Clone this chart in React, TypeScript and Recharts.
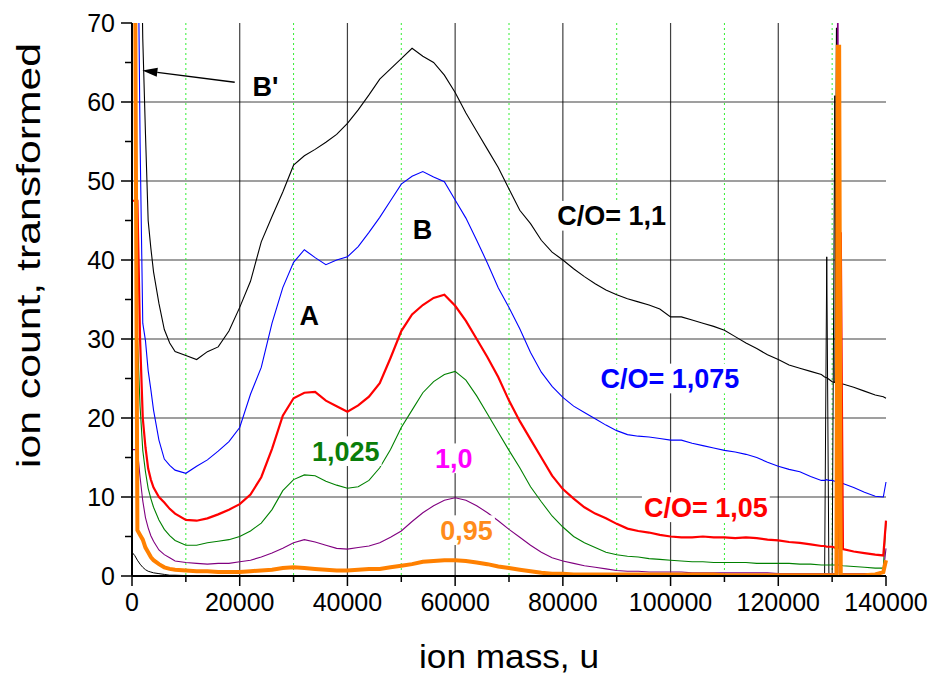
import React from 'react';
import {
  LineChart,
  Line,
  XAxis,
  YAxis,
  CartesianGrid,
  ReferenceLine,
  ReferenceDot,
  Label
} from 'recharts';

// ion mass, u
const masses = [
  0, 500, 1000, 1500, 2000, 2500, 3000, 3500, 4000, 5000, 6000, 7000, 8000,
  10000, 12000, 14000, 16000, 18000, 20000, 22000, 24000, 26000, 28000,
  30000, 32000, 34000, 36000, 38000, 40000, 42000, 44000, 46000, 48000,
  50000, 52000, 54000, 56000, 58000, 60000, 62000, 64000, 66000, 68000,
  70000, 72000, 74000, 76000, 78000, 80000, 82000, 84000, 86000, 88000,
  90000, 92000, 94000, 96000, 98000, 100000, 102000, 104000, 106000, 108000,
  110000, 112000, 114000, 116000, 118000, 120000, 122000, 124000, 126000, 128000,
  128600, 129000, 129400, 130000, 130500, 130800, 131050, 131300, 131600, 132000, 134000, 136000, 138000, 139500, 140000
];

// C/O = 1,1
const co110 = [
  90, 90, 90, 90, 68, 56, 45, 41.5, 38.5, 34.5, 31.2, 29.5, 28.4,
  27.9, 27.4, 28.4, 29, 31, 34, 37.3, 42.3, 45.5, 48.6,
  52, 53.2, 54, 54.9, 55.9, 57.3, 59, 60.9, 62.9, 64.2,
  65.5, 66.8, 65.8, 65, 63.4, 61.2, 58.6, 56.3, 54, 51.7,
  49, 46.3, 44.6, 42.5, 41, 40, 38.9, 37.9, 37, 36.2,
  35.6, 35.1, 34.7, 34.3, 33.8, 32.8, 32.8, 32.4, 32, 31.6,
  31.1, 30.3, 29.5, 28.8, 28, 27.4, 26.7, 26.3, 25.9, 25.5,
  25.2, 25.1, 24.9, 24.6, 24.5, 69.4, 24.4, 24.4, 24.3, 24.3, 23.9, 23.4, 22.9, 22.7, 22.5
];

// C/O = 1,075
const co1075 = [
  90, 90, 90, 55, 32, 29.8, 26, 23.6, 21, 17.2, 14.8, 14, 13.4,
  13, 13.9, 14.7, 15.8, 17, 18.8, 23, 26.4, 32, 36.5,
  39.7, 41.3, 40.3, 39.4, 40, 40.4, 41.7, 43.5, 45.4, 47.5,
  49.6, 50.6, 51.2, 50.5, 49.9, 47.6, 45.3, 42.5, 39.6, 36.5,
  34, 31.3, 28.3, 25.8, 24, 22.6, 21.5, 20.7, 19.9, 19.1,
  18.4, 17.9, 17.7, 17.6, 17.4, 17.2, 17.2, 16.8, 16.5, 16.2,
  15.9, 15.7, 15.4, 15, 14.4, 13.9, 13.5, 13.2, 12.6, 12.1,
  12.1, 12.2, 12.1, 12.1, 12, 12, 12, 11.9, 11.9, 11.7, 11.2, 10.6, 10.1, 10, 11.9
];

// C/O = 1,05
const co105 = [
  47.5, 47.5, 47.5, 30, 20, 16.3, 13.6, 12.2, 11.2, 10, 9.3, 8.5, 7.9,
  7.1, 7, 7.3, 7.8, 8.4, 9.1, 10.3, 12.5, 16.1, 20.3,
  22.5, 23.2, 23.3, 22.2, 21.5, 20.8, 21.6, 22.7, 24.4, 27.6,
  31, 33.1, 34.3, 35.2, 35.6, 34.2, 32.3, 30, 27.7, 25.2,
  22.2, 19.6, 17.3, 15, 12.7, 11, 9.8, 8.7, 7.9, 7.3,
  6.6, 6, 5.7, 5.5, 5.2, 5, 4.9, 4.9, 5, 4.9,
  4.9, 4.8, 4.9, 4.8, 4.6, 4.5, 4.3, 4.2, 4, 3.8,
  3.8, 3.7, 3.7, 3.7, 3.6, 3.6, 3.6, 3.6, 43.5, 3.4, 3.1, 2.9, 2.7, 2.6, 7
];

// C/O = 1,025
const co1025 = [
  30, 30, 30.3, 21.5, 15.9, 13.2, 11.1, 9.8, 8.7, 7.1, 5.9, 5.1, 4.5,
  3.9, 3.9, 4.2, 4.4, 4.6, 5, 5.7, 6.7, 8.4, 10.8,
  12.2, 12.8, 12.7, 12, 11.5, 11.1, 11.3, 12.1, 13.7, 16,
  18.8, 21, 23.2, 24.6, 25.5, 25.9, 24.8, 22.8, 20.5, 18.2,
  15.9, 13.7, 11.3, 9.4, 7.6, 6.2, 5, 4.2, 3.6, 3,
  2.7, 2.5, 2.4, 2.2, 2.1, 2, 1.9, 1.8, 1.8, 1.7,
  1.7, 1.7, 1.7, 1.6, 1.6, 1.6, 1.6, 1.5, 1.5, 1.4,
  1.4, 1.4, 1.4, 1.4, 1.4, 1.4, 1.4, 1.4, 1.4, 1.3, 1.2, 1.1, 1, 1, 6.8
];

// C/O = 1,0
const co100 = [
  16, 16, 16, 12.5, 9.5, 7.4, 6.1, 5.1, 4.4, 3.3, 2.7, 2.3, 1.9,
  1.7, 1.6, 1.5, 1.6, 1.6, 1.8, 2, 2.4, 2.9, 3.5,
  4.2, 4.6, 4.3, 3.9, 3.5, 3.4, 3.6, 3.8, 4.2, 4.9,
  5.7, 6.9, 8, 8.9, 9.6, 9.9, 9.6, 8.9, 8, 7,
  5.9, 4.9, 3.9, 3, 2.3, 1.9, 1.6, 1.3, 1.1, 0.9,
  0.7, 0.6, 0.6, 0.5, 0.5, 0.5, 0.5, 0.4, 0.4, 0.4,
  0.4, 0.4, 0.4, 0.4, 0.4, 0.3, 0.3, 0.3, 0.3, 0.3,
  0.3, 0.3, 0.3, 0.3, 0.3, 0.3, 90, 0.3, 0.3, 0.3, 0.3, 0.3, 0.3, 0.4, 3.5
];

// C/O = 0,95
const co095 = [
  90, 90, 5.8, 5.2, 4.6, 3.6, 3, 2.4, 2, 1.5, 1.1, 0.9, 0.8,
  0.7, 0.6, 0.6, 0.5, 0.5, 0.5, 0.6, 0.7, 0.8, 1,
  1.1, 1, 0.9, 0.8, 0.7, 0.7, 0.8, 0.9, 0.9, 1.1,
  1.3, 1.5, 1.8, 1.9, 2, 2, 1.9, 1.7, 1.5, 1.2,
  1, 0.8, 0.6, 0.4, 0.3, 0.3, 0.2, 0.2, 0.2, 0.2,
  0.2, 0.2, 0.2, 0.2, 0.2, 0.2, 0.2, 0.2, 0.2, 0.2,
  0.1, 0.1, 0.1, 0.1, 0.1, 0.1, 0.1, 0.1, 0.1, 0.1,
  0.1, 0.1, 0.1, 0.1, 0.1, 0.1, 67, 67, 0.1, 0.1, 0.1, 0.1, 0.2, 0.5, 2
];

// lowest trace (black, near zero)
const base = [
  3, 2.6, 2, 1.5, 1.1, 0.8, 0.6, 0.5, 0.4, 0.3, 0.2, 0.1, 0.1,
  0.05, 0.05, 0.05, 0.05, 0.05, 0.05, 0.05, 0.05, 0.05, 0.05,
  0.05, 0.05, 0.05, 0.05, 0.05, 0.05, 0.05, 0.05, 0.05, 0.05,
  0.05, 0.05, 0.05, 0.05, 0.05, 0.05, 0.05, 0.05, 0.05, 0.05,
  0.05, 0.05, 0.05, 0.05, 0.05, 0.05, 0.05, 0.05, 0.05, 0.05,
  0.05, 0.05, 0.05, 0.05, 0.05, 0.05, 0.05, 0.05, 0.05, 0.05,
  0.05, 0.05, 0.05, 0.05, 0.05, 0.05, 0.05, 0.05, 0.05, 0.05,
  0, 40.4, 0, 0, 60.8, 0, 0, 0, 0, 0, 0, 0, 0, 0, 0
];

const xTicks = [0, 10000, 20000, 30000, 40000, 50000, 60000, 70000, 80000, 90000, 100000, 110000, 120000, 130000, 140000];
const yTicks = [0, 5, 10, 15, 20, 25, 30, 35, 40, 45, 50, 55, 60, 65, 70];
const gridMajorX = [20000, 40000, 60000, 80000, 100000, 120000];
const gridMinorX = [10000, 30000, 50000, 70000, 90000, 110000, 130000];
const gridY = [10, 20, 30, 40, 50, 60];

const notes = [
  { text: "B'", x: 24800, y: 62, color: '#000000' },
  { text: 'A', x: 32900, y: 33, color: '#000000' },
  { text: 'B', x: 53950, y: 43.9, color: '#000000' },
  { text: 'C/O= 1,1', x: 89060, y: 45.6, color: '#000000' },
  { text: 'C/O= 1,075', x: 99860, y: 25, color: '#0000ff' },
  { text: '1,025', x: 39700, y: 15.8, color: '#0a7d0a' },
  { text: '1,0', x: 59750, y: 14.9, color: '#ff00ff' },
  { text: '0,95', x: 62130, y: 5.8, color: '#ff8c1a' },
  { text: 'C/O= 1,05', x: 106550, y: 8.7, color: '#ff0000' }
];

const data = masses.map((m, i) => ({
  mass: m,
  base: base[i],
  co110: co110[i],
  co1075: co1075[i],
  co105: co105[i],
  co1025: co1025[i],
  co100: co100[i],
  co095: co095[i]
}));

const FONT = 'Liberation Sans, Arial, Helvetica, sans-serif';

// rough bold Arial advance widths (em) for sizing the white label boxes
const boldWidth = (s: string) =>
  s.split('').reduce((sum, c) => {
    if (c === 'C' || c === 'A' || c === 'B') return sum + 0.722;
    if (c === 'O') return sum + 0.778;
    if (c === '=') return sum + 0.584;
    if (c === ',' || c === '/' || c === ' ') return sum + 0.278;
    if (c === "'") return sum + 0.238;
    return sum + 0.556;
  }, 0);

const XTick = ({ x, y, payload }: any) => {
  const major = payload.value % 20000 === 0;
  return (
    <g>
      <line x1={x} x2={x} y1={y} y2={y + (major ? 10 : 6)} stroke="#000" strokeWidth={1.5} />
      {major && (
        <text x={x} y={y + 35} textAnchor="middle" fontSize={25} fontFamily={FONT} fill="#000">
          {payload.value}
        </text>
      )}
    </g>
  );
};

const YTick = ({ x, y, payload }: any) => {
  const major = payload.value % 10 === 0;
  return (
    <g>
      <line x1={x - (major ? 11 : 7)} x2={x} y1={y} y2={y} stroke="#000" strokeWidth={1.5} />
      {major && (
        <text x={x - 17} y={y} dy={9} textAnchor="end" fontSize={25} fontFamily={FONT} fill="#000">
          {payload.value}
        </text>
      )}
    </g>
  );
};

const NoteShape = ({ cx, cy, text, color }: any) => {
  const size = 27;
  const w = boldWidth(text) * size + 4;
  const h = size * 1.1;
  return (
    <g>
      <rect x={cx - w / 2} y={cy - h / 2} width={w} height={h} fill="#fff" />
      <text x={cx} y={cy} dy={size * 0.36} textAnchor="middle" fontSize={size} fontWeight="bold" fontFamily={FONT} fill={color}>
        {text}
      </text>
    </g>
  );
};

const ArrowShape = ({ x1, y1, x2, y2 }: any) => {
  const ang = Math.atan2(y2 - y1, x2 - x1);
  const len = 15;
  const half = 4.5;
  const bx = x2 - len * Math.cos(ang);
  const by = y2 - len * Math.sin(ang);
  const px = -Math.sin(ang) * half;
  const py = Math.cos(ang) * half;
  return (
    <g>
      <line x1={x1} y1={y1} x2={bx} y2={by} stroke="#000" strokeWidth={1.3} />
      <polygon points={`${x2},${y2} ${bx + px},${by + py} ${bx - px},${by - py}`} fill="#000" />
    </g>
  );
};

export default function App() {
  return (
    <LineChart
      width={924}
      height={668}
      data={data}
      margin={{ top: 15, right: 46, bottom: 0, left: 0 }}
      style={{ fontFamily: FONT }}
    >
      <CartesianGrid horizontalValues={gridY} verticalValues={gridMajorX} stroke="#000" strokeOpacity={0.75} strokeWidth={1.2} />
      <CartesianGrid horizontal={false} verticalValues={gridMinorX} stroke="#33ee33" strokeWidth={1} strokeDasharray="2 3" />
      <XAxis
        type="number"
        dataKey="mass"
        domain={[0, 140000]}
        ticks={xTicks}
        interval={0}
        height={100}
        tickSize={0}
        tickMargin={0}
        tickLine={false}
        axisLine={{ stroke: '#000', strokeWidth: 2 }}
        tick={(p: any) => <XTick {...p} />}
      >
        <Label
          content={({ viewBox }: any) => (
            <text
              x={viewBox.x + viewBox.width / 2}
              y={viewBox.y + 92}
              textAnchor="middle"
              fontSize={34}
              textLength={180}
              lengthAdjust="spacingAndGlyphs"
              fontFamily={FONT}
              fill="#000"
            >
              ion mass, u
            </text>
          )}
        />
      </XAxis>
      <YAxis
        type="number"
        domain={[0, 70]}
        allowDataOverflow
        ticks={yTicks}
        interval={0}
        width={124}
        tickSize={0}
        tickMargin={0}
        tickLine={false}
        axisLine={{ stroke: '#000', strokeWidth: 2 }}
        tick={(p: any) => <YTick {...p} />}
      >
        <Label
          content={({ viewBox }: any) => {
            const cx = 32;
            const cy = viewBox.y + viewBox.height / 2 - 44;
            return (
              <text
                x={cx}
                y={cy}
                transform={`rotate(-90, ${cx}, ${cy})`}
                textAnchor="middle"
                fontSize={34}
                textLength={425}
                lengthAdjust="spacingAndGlyphs"
                fontFamily={FONT}
                fill="#000"
              >
                ion count, transformed
              </text>
            );
          }}
        />
      </YAxis>

      <Line dataKey="base" stroke="#000000" strokeWidth={1} dot={false} isAnimationActive={false} />
      <Line dataKey="co110" stroke="#000000" strokeWidth={1.1} dot={false} isAnimationActive={false} />
      <Line dataKey="co1075" stroke="#0000ff" strokeWidth={1.1} dot={false} isAnimationActive={false} />
      <Line dataKey="co1025" stroke="#008000" strokeWidth={1.1} dot={false} isAnimationActive={false} />
      <Line dataKey="co105" stroke="#ff0000" strokeWidth={2.2} dot={false} isAnimationActive={false} />
      <Line dataKey="co100" stroke="#800080" strokeWidth={1.1} dot={false} isAnimationActive={false} />
      <Line dataKey="co095" stroke="#ff8000" strokeWidth={4} dot={false} isAnimationActive={false} />

      <ReferenceLine
        segment={[{ x: 19070, y: 62.5 }, { x: 1930, y: 64 }]}
        shape={(p: any) => <ArrowShape {...p} />}
      />
      {notes.map((n) => (
        <ReferenceDot
          key={n.text}
          x={n.x}
          y={n.y}
          r={0}
          shape={(p: any) => <NoteShape {...p} text={n.text} color={n.color} />}
        />
      ))}
    </LineChart>
  );
}
